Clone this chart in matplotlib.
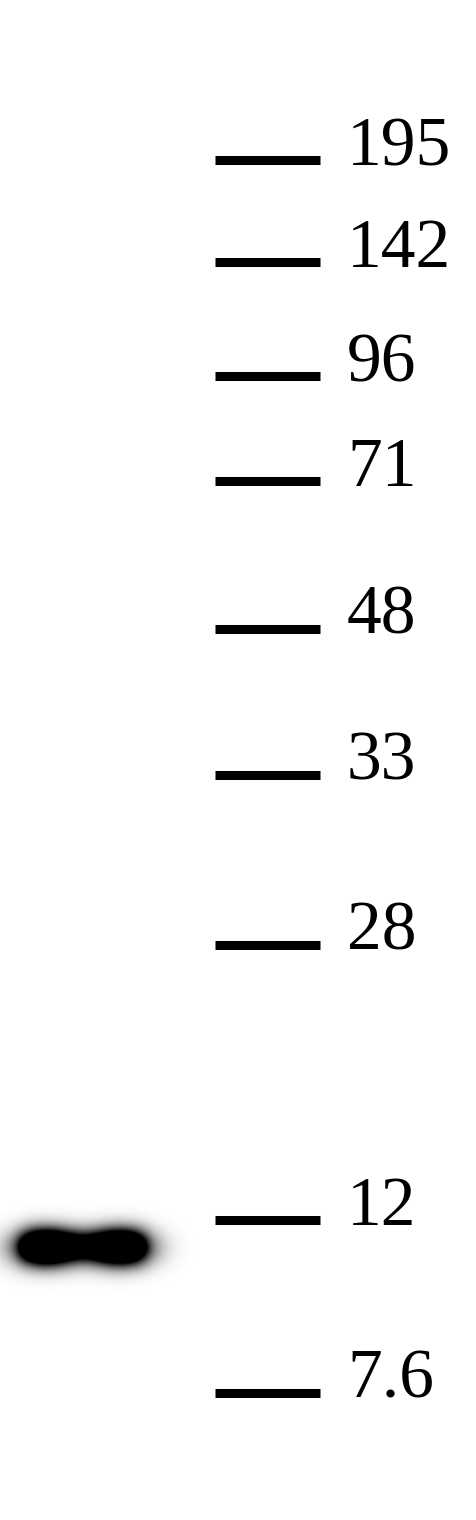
import numpy as np
import matplotlib
matplotlib.use("Agg")
import matplotlib.pyplot as plt

# Marker ladder (kDa) and their migration positions (pixels from top of blot)
marker_labels = ["195", "142", "96", "71", "48", "33", "28", "12", "7.6"]
marker_pos = [160, 262, 376, 481, 629, 775, 945, 1220, 1393]

# Detected band: lobe x-centres within the lane, migration position, relative intensity
band_lobe_x = [45, 120]
band_pos = [1247, 1247]
band_intensity = [1.0, 0.95]

W, H = 476, 1520
fig = plt.figure(figsize=(W / 100, H / 100), dpi=100)
ax = fig.add_axes([0, 0, 1, 1])
ax.set_xlim(0, W)
ax.set_ylim(H, 0)
ax.axis("off")
fig.patch.set_facecolor("white")

# Marker ticks and labels
for lab, y in zip(marker_labels, marker_pos):
    ax.plot([215, 320], [y, y], color="black", lw=6.5, solid_capstyle="butt")
    ax.text(347, y + 5, lab, fontsize=50, family="Liberation Serif",
            ha="left", va="baseline", color="black")

# Band rendered as blurred blob (two lobes joined by a bridge)
xs = np.arange(0, 200, 1.0)
ys = np.arange(1180, 1320, 1.0)
X, Y = np.meshgrid(xs, ys)
lobes = np.zeros_like(X)
for cx, cy, a in zip(band_lobe_x, band_pos, band_intensity):
    lobes += a * np.exp(-0.5 * ((X - cx) / 22.0) ** 2 - 0.5 * ((Y - cy) / 13.0) ** 2)
mid_x = np.mean(band_lobe_x)
mid_y = np.mean(band_pos) - 1
bridge = np.exp(-((X - mid_x) / 62.0) ** 8) * np.exp(-0.5 * ((Y - mid_y) / 11.0) ** 2)
I = np.clip(1.6 * lobes + 0.9 * bridge, 0, 1)
rgba = np.zeros(I.shape + (4,))
rgba[..., 3] = I
ax.imshow(rgba, extent=(xs[0], xs[-1] + 1, ys[-1] + 1, ys[0]),
          interpolation="bilinear", zorder=2)
ax.set_xlim(0, W)
ax.set_ylim(H, 0)
ax.set_aspect("auto")

fig.savefig("out.png", dpi=100, facecolor="white")
